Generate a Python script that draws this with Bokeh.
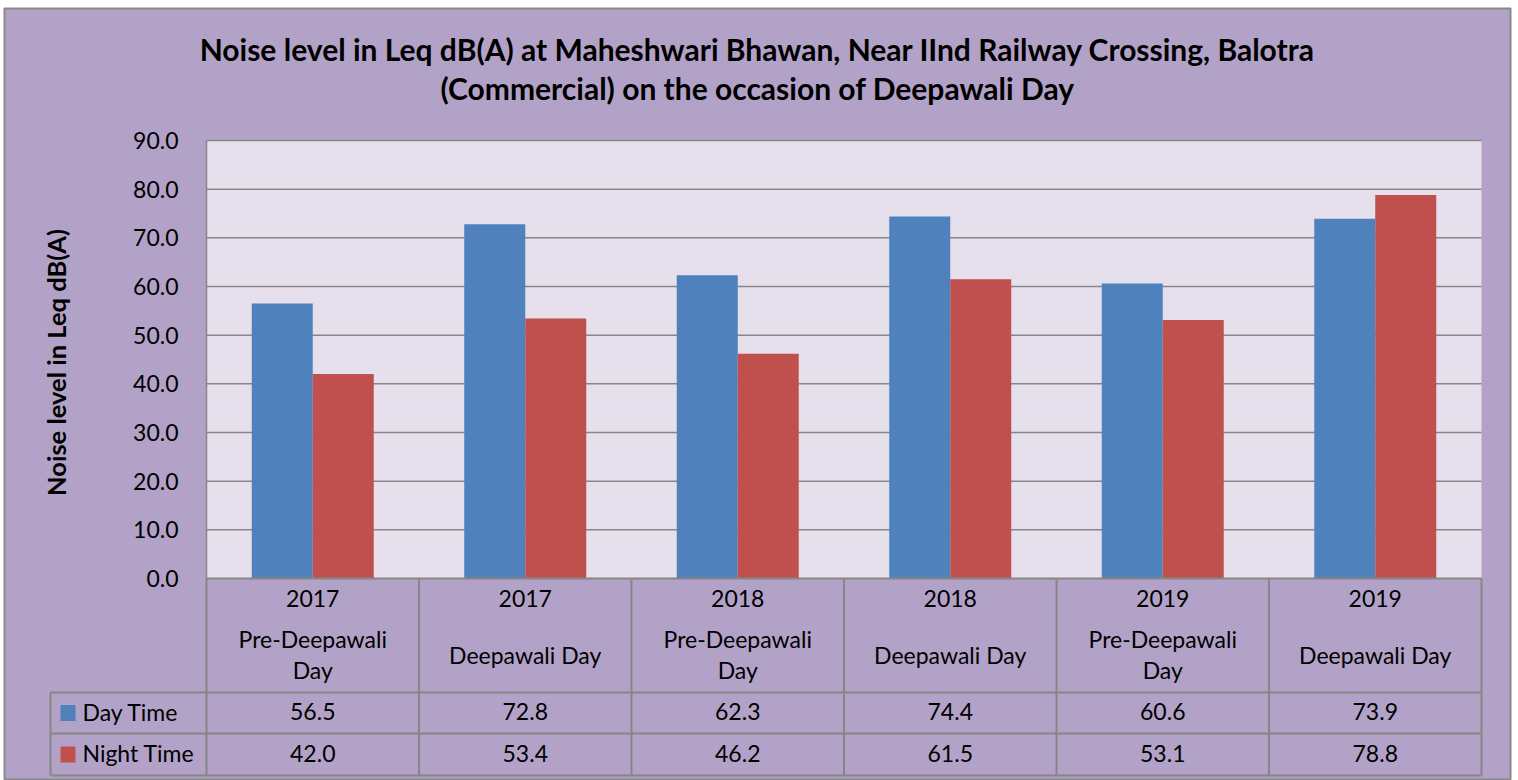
import numpy as np
from bokeh.plotting import figure
from bokeh.models import Range1d, LinearAxis, FixedTicker, NumeralTickFormatter
from bokeh.core.properties import value
from bokeh.embed import file_html
from bokeh.resources import INLINE

# ---------------- data ----------------
years = ["2017", "2017", "2018", "2018", "2019", "2019"]
occasions = ["Pre-Deepawali\nDay", "Deepawali Day", "Pre-Deepawali\nDay",
             "Deepawali Day", "Pre-Deepawali\nDay", "Deepawali Day"]
day_time = [56.5, 72.8, 62.3, 74.4, 60.6, 73.9]
night_time = [42.0, 53.4, 46.2, 61.5, 53.1, 78.8]
series_names = ["Day Time", "Night Time"]
y_ticks = [0, 10, 20, 30, 40, 50, 60, 70, 80, 90]
title_lines = ["Noise level in Leq dB(A) at Maheshwari Bhawan, Near IInd Railway Crossing, Balotra",
               "(Commercial) on the occasion of Deepawali Day"]
y_label = "Noise level in Leq dB(A)"

# ---------------- styling / layout ----------------
BG = "#B3A2C7"
PLOT_BG = "#E6E0EC"
GRID = "#868686"
BLUE = "#4F81BD"
RED = "#C0504D"
FONT = value("Lato")
FS = "23px"

W, H = 1512, 780
FR_L, FR_T, FR_R, FR_B = 4, 8, 1510, 779          # outer chart frame (page coords)
PLOT_L, PLOT_R, PLOT_T, BASE = 206, 1481, 140, 578   # plot area (page coords)
N = len(years)
COL_W = (PLOT_R - PLOT_L) / N
PX_PER_UNIT = (BASE - PLOT_T) / (y_ticks[-1] - y_ticks[0])

def xd(px):
    return (px - PLOT_L) / COL_W

def yd(py):
    return (BASE - py) / PX_PER_UNIT

p = figure(width=W, height=H, output_backend="svg", toolbar_location=None,
           x_range=Range1d(xd(FR_L), xd(FR_R)), y_range=Range1d(yd(FR_B), yd(FR_T)),
           x_axis_type=None, y_axis_type=None,
           min_border_left=FR_L, min_border_right=W - FR_R,
           min_border_top=FR_T, min_border_bottom=H - FR_B)
p.background_fill_color = BG
p.border_fill_color = "white"
p.outline_line_color = "#898989"
p.outline_line_width = 2
p.xgrid.visible = False
p.ygrid.visible = False

ymin, ymax = y_ticks[0], y_ticks[-1]

# plot area
p.quad(left=[0], right=[N], bottom=[ymin], top=[ymax], fill_color=PLOT_BG, line_color=None)
# gridlines
gt = y_ticks[1:]
p.segment(x0=[0] * len(gt), x1=[N] * len(gt), y0=gt, y1=gt, line_color=GRID, line_width=1.5)

# bars
idx = np.arange(N)
centers = idx + 0.5
bar_w = 61 / COL_W
p.vbar(x=centers - bar_w / 2, top=day_time, bottom=0, width=bar_w, fill_color=BLUE, line_color=None)
p.vbar(x=centers + bar_w / 2, top=night_time, bottom=0, width=bar_w, fill_color=RED, line_color=None)

# y axis
ax = LinearAxis(fixed_location=0, bounds=(ymin, ymax), ticker=FixedTicker(ticks=y_ticks),
                formatter=NumeralTickFormatter(format="0.0"))
ax.axis_line_color = GRID
ax.axis_line_width = 1.5
ax.major_tick_line_color = None
ax.minor_tick_line_color = None
ax.major_label_standoff = 22
ax.major_label_text_font = "Lato"
ax.major_label_text_font_size = FS
ax.major_label_text_color = "black"
p.add_layout(ax, "left")

# y axis title
p.text(x=[xd(55)], y=[yd(362)], text=[y_label], angle=np.pi / 2,
       text_font=FONT, text_font_size="25.5px", text_font_style="bold",
       text_align="center", text_baseline="middle", text_color="black")

# chart title
p.text(x=[xd(757), xd(757)], y=[yd(48), yd(87)], text=title_lines,
       text_font=FONT, text_font_size="30px", text_font_style="bold",
       text_align="center", text_baseline="middle", text_color="black")

# ---------------- data table ----------------
row_tops = [yd(692), yd(733)]
row_bots = [yd(733), yd(775)]
leg_l = xd(50)
# horizontal lines
p.segment(x0=[0], x1=[N], y0=[0], y1=[0], line_color=GRID, line_width=2)
hy = [yd(692), yd(733), yd(775)]
p.segment(x0=[leg_l] * 3, x1=[N] * 3, y0=hy, y1=hy, line_color=GRID, line_width=2)
# vertical lines
vx = list(range(0, N + 1))
p.segment(x0=vx, x1=vx, y0=[0] * len(vx), y1=[yd(775)] * len(vx), line_color=GRID, line_width=2)
p.segment(x0=[leg_l], x1=[leg_l], y0=[yd(692)], y1=[yd(775)], line_color=GRID, line_width=2)

# header
p.text(x=centers, y=[yd(598)] * N, text=years, text_font=FONT, text_font_size=FS,
       text_align="center", text_baseline="middle", text_color="black")
p.text(x=centers, y=[yd(654)] * N, text=occasions, text_font=FONT, text_font_size=FS,
       text_align="center", text_baseline="middle", text_color="black", text_line_height=1.08)

# rows
row_c = [(a + b) / 2 for a, b in zip(row_tops, row_bots)]
p.rect(x=[xd(67.5)] * 2, y=row_c, width=15, height=16, width_units="screen", height_units="screen",
       fill_color=[BLUE, RED], line_color=None)
p.text(x=[xd(82)] * 2, y=[c + 1.5 / PX_PER_UNIT for c in row_c], text=series_names, text_font=FONT,
       text_font_size=FS, text_align="left", text_baseline="middle", text_color="black")
for vals, yc in zip([day_time, night_time], row_c):
    p.text(x=centers, y=[yc + 1.5 / PX_PER_UNIT] * N, text=[f"{v:.1f}" for v in vals], text_font=FONT,
           text_font_size=FS, text_align="center", text_baseline="middle", text_color="black")

open("out.html", "w").write(file_html(p, INLINE))
